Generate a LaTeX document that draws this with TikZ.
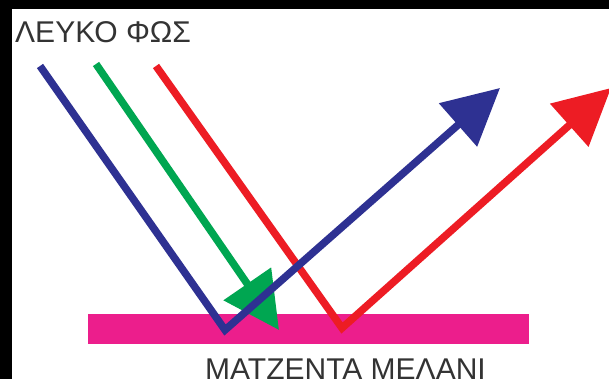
\documentclass[tikz,border=0pt]{standalone}
\usepackage{fontspec}
\setmainfont{Liberation Sans}
\usetikzlibrary{arrows.meta}
\definecolor{rayblue}{RGB}{46,49,146}
\definecolor{raygreen}{RGB}{0,166,81}
\definecolor{rayred}{RGB}{237,28,36}
\definecolor{inkpink}{RGB}{236,30,140}
\definecolor{labelgray}{RGB}{51,51,51}

\begin{document}
\begin{tikzpicture}[x=1pt,y=-1pt,>={Triangle[length=56pt,width=56pt]},
  ray/.style={line width=7.5pt,miter limit=10},
  caption/.style={anchor=base west,inner sep=0pt,text=labelgray,font=\fontsize{30}{30}\selectfont}]
\useasboundingbox (0,0) rectangle (609,379);
\fill[white] (0,0) rectangle (609,379);
\fill[black] (0,0) rectangle (609,9);
\fill[black] (0,0) rectangle (12,379);
% labels
\node[caption] (light) at (15,43) {ΛΕΥΚΟ ΦΩΣ};
\node[caption] (inklabel) at (205,379) {ΜΑΤΖΕΝΤΑ ΜΕΛΑΝΙ};
% ink layer
\fill[inkpink] (88,314) rectangle (529,344);
% rays
\coordinate (bin) at (40,66);
\coordinate (bhit) at (225,330);
\coordinate (bout) at (500,88);
\coordinate (gin) at (96,64);
\coordinate (gend) at (279,330);
\coordinate (rin) at (156,66);
\coordinate (rhit) at (342,328);
\coordinate (rout) at (611,88);
\draw[ray,rayred,->] (rin)--(rhit)--(rout);
\draw[ray,raygreen,->] (gin)--(gend);
\draw[ray,rayblue,->] (bin)--(bhit)--(bout);
\end{tikzpicture}
\end{document}
